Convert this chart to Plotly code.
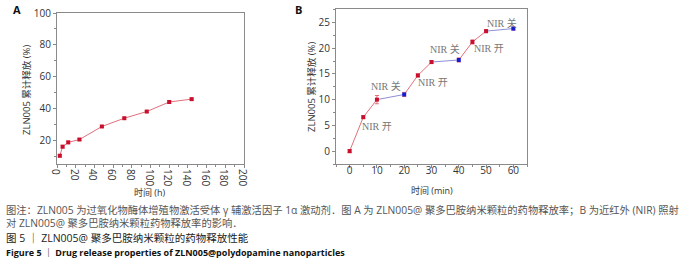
import plotly.graph_objects as go

# Panel A data
time_h = [3, 6, 12, 24, 48, 72, 96, 120, 144]
release_a = [10.2, 15.9, 18.6, 20.4, 28.6, 33.8, 38.0, 44.0, 45.8]
err_a = [0.8, 0.8, 0.8, 0.6, 0.6, 0.6, 0.6, 0.8, 0.6]

# Panel B data
time_min = [0, 5, 10, 20, 25, 30, 40, 45, 50, 60]
release_b = [0.0, 6.6, 10.0, 11.0, 14.7, 17.3, 17.7, 21.2, 23.3, 23.8]
err_b = [0.3, 0.3, 0.8, 0.4, 0.3, 0.3, 0.4, 0.4, 0.3, 0.3]
state_b = ["on", "on", "on", "off", "on", "on", "off", "on", "on", "off"]

# NIR annotations
nir_labels = ["NIR 开", "NIR 关", "NIR 开", "NIR 关", "NIR 开", "NIR 关"]
nir_x = [10.0, 13.4, 30.4, 35.0, 50.9, 55.7]
nir_y = [4.8, 12.6, 13.4, 19.8, 20.0, 24.8]

RED = "#c8102e"
BLUE = "#1a1ad0"
RED_L = "#e2707c"
BLUE_L = "#8e8ed8"

fig = go.Figure()

fig.add_trace(go.Scatter(
    x=time_h, y=release_a, mode="lines+markers",
    line=dict(color=RED_L, width=1),
    marker=dict(symbol="square", size=4, color=RED),
    error_y=dict(type="data", array=err_a, color=RED_L, thickness=1, width=2),
    xaxis="x", yaxis="y", showlegend=False))

for i in range(1, len(time_min)):
    c = RED_L if state_b[i] == "on" else BLUE_L
    fig.add_trace(go.Scatter(
        x=time_min[i-1:i+1], y=release_b[i-1:i+1], mode="lines",
        line=dict(color=c, width=1), xaxis="x2", yaxis="y2", showlegend=False))

fig.add_trace(go.Scatter(
    x=time_min, y=release_b, mode="markers",
    marker=dict(symbol="square", size=4,
                color=[RED if s == "on" else BLUE for s in state_b]),
    error_y=dict(type="data", array=err_b, color=RED_L, thickness=1, width=2),
    xaxis="x2", yaxis="y2", showlegend=False))

W, H = 700, 277
def px(x): return x / W
def py(y): return 1 - y / H

def axis_common(minor_dtick, standoff):
    return dict(showline=True, mirror=True, linecolor="#8a8a8a", linewidth=1,
                ticks="outside", ticklen=3, tickcolor="#8a8a8a",
                showgrid=False, zeroline=False, automargin=False,
                ticklabelstandoff=standoff,
                tickfont=dict(family="Open Sans", size=10, color="#333"),
                minor=dict(ticks="outside", ticklen=2, tickcolor="#8a8a8a",
                           dtick=minor_dtick, showgrid=False))

fig.update_layout(
    width=W, height=H, margin=dict(l=0, r=0, t=0, b=0, autoexpand=False),
    paper_bgcolor="white", plot_bgcolor="white",
    xaxis=dict(domain=[px(57), px(244)], range=[0, 200], dtick=20,
               anchor="y", **axis_common(10, -6)),
    yaxis=dict(domain=[py(164), py(13)], range=[5, 100], dtick=20,
               anchor="x", **axis_common(10, 0)),
    xaxis2=dict(domain=[px(336), px(527)], range=[-5, 65], dtick=10,
                anchor="y2", **axis_common(5, -6)),
    yaxis2=dict(domain=[py(164), py(9)], range=[-2.5, 27.6], dtick=5,
                anchor="x2", **axis_common(2.5, 0)),
)

ann = []
for t, x, y in zip(nir_labels, nir_x, nir_y):
    ann.append(dict(text=t, x=x, y=y, xref="x2", yref="y2", showarrow=False,
                    font=dict(family="Liberation Serif, Noto Sans CJK SC", size=10, color="#777")))

def ptext(t, x, y, size=9, color="#333", xanchor="left", angle=0, family="Open Sans, Noto Sans CJK SC"):
    ann.append(dict(text=t, x=px(x), y=py(y), xref="paper", yref="paper",
                    showarrow=False, xanchor=xanchor, yanchor="middle", textangle=angle,
                    font=dict(family=family, size=size, color=color)))

ptext("<b>A</b>", 11, 10, size=11, color="#111")
ptext("<b>B</b>", 293, 10, size=11, color="#111")
ptext("ZLN005 累计释放 (%)", 27, 90, size=9.5, xanchor="center", angle=-90)
ptext("ZLN005 累计释放 (%)", 311, 87, size=9.5, xanchor="center", angle=-90)
ptext("时间 (h)", 150, 192, size=9, xanchor="center")
ptext("时间 (min)", 432, 190, size=9, xanchor="center")

ptext("图注：ZLN005 为过氧化物酶体增殖物激活受体 γ 辅激活因子 1α 激动剂．图 A 为 ZLN005@ 聚多巴胺纳米颗粒的药物释放率；B 为近红外 (NIR) 照射",
      4, 210, size=10.3, color="#555")
ptext("对 ZLN005@ 聚多巴胺纳米颗粒药物释放率的影响．", 4, 223, size=10.3, color="#555")
ptext("图 5 ｜ ZLN005@ 聚多巴胺纳米颗粒的药物释放性能", 4, 238, size=10.5, color="#222")
ptext("<b>Figure 5 ｜ Drug release properties of ZLN005@polydopamine nanoparticles</b>", 4, 252, size=9, color="#111")

fig.update_layout(annotations=ann)
fig.write_html("out.html", config={"displayModeBar": False},
               post_script="document.body.style.margin='0';document.body.style.overflow='hidden';")
